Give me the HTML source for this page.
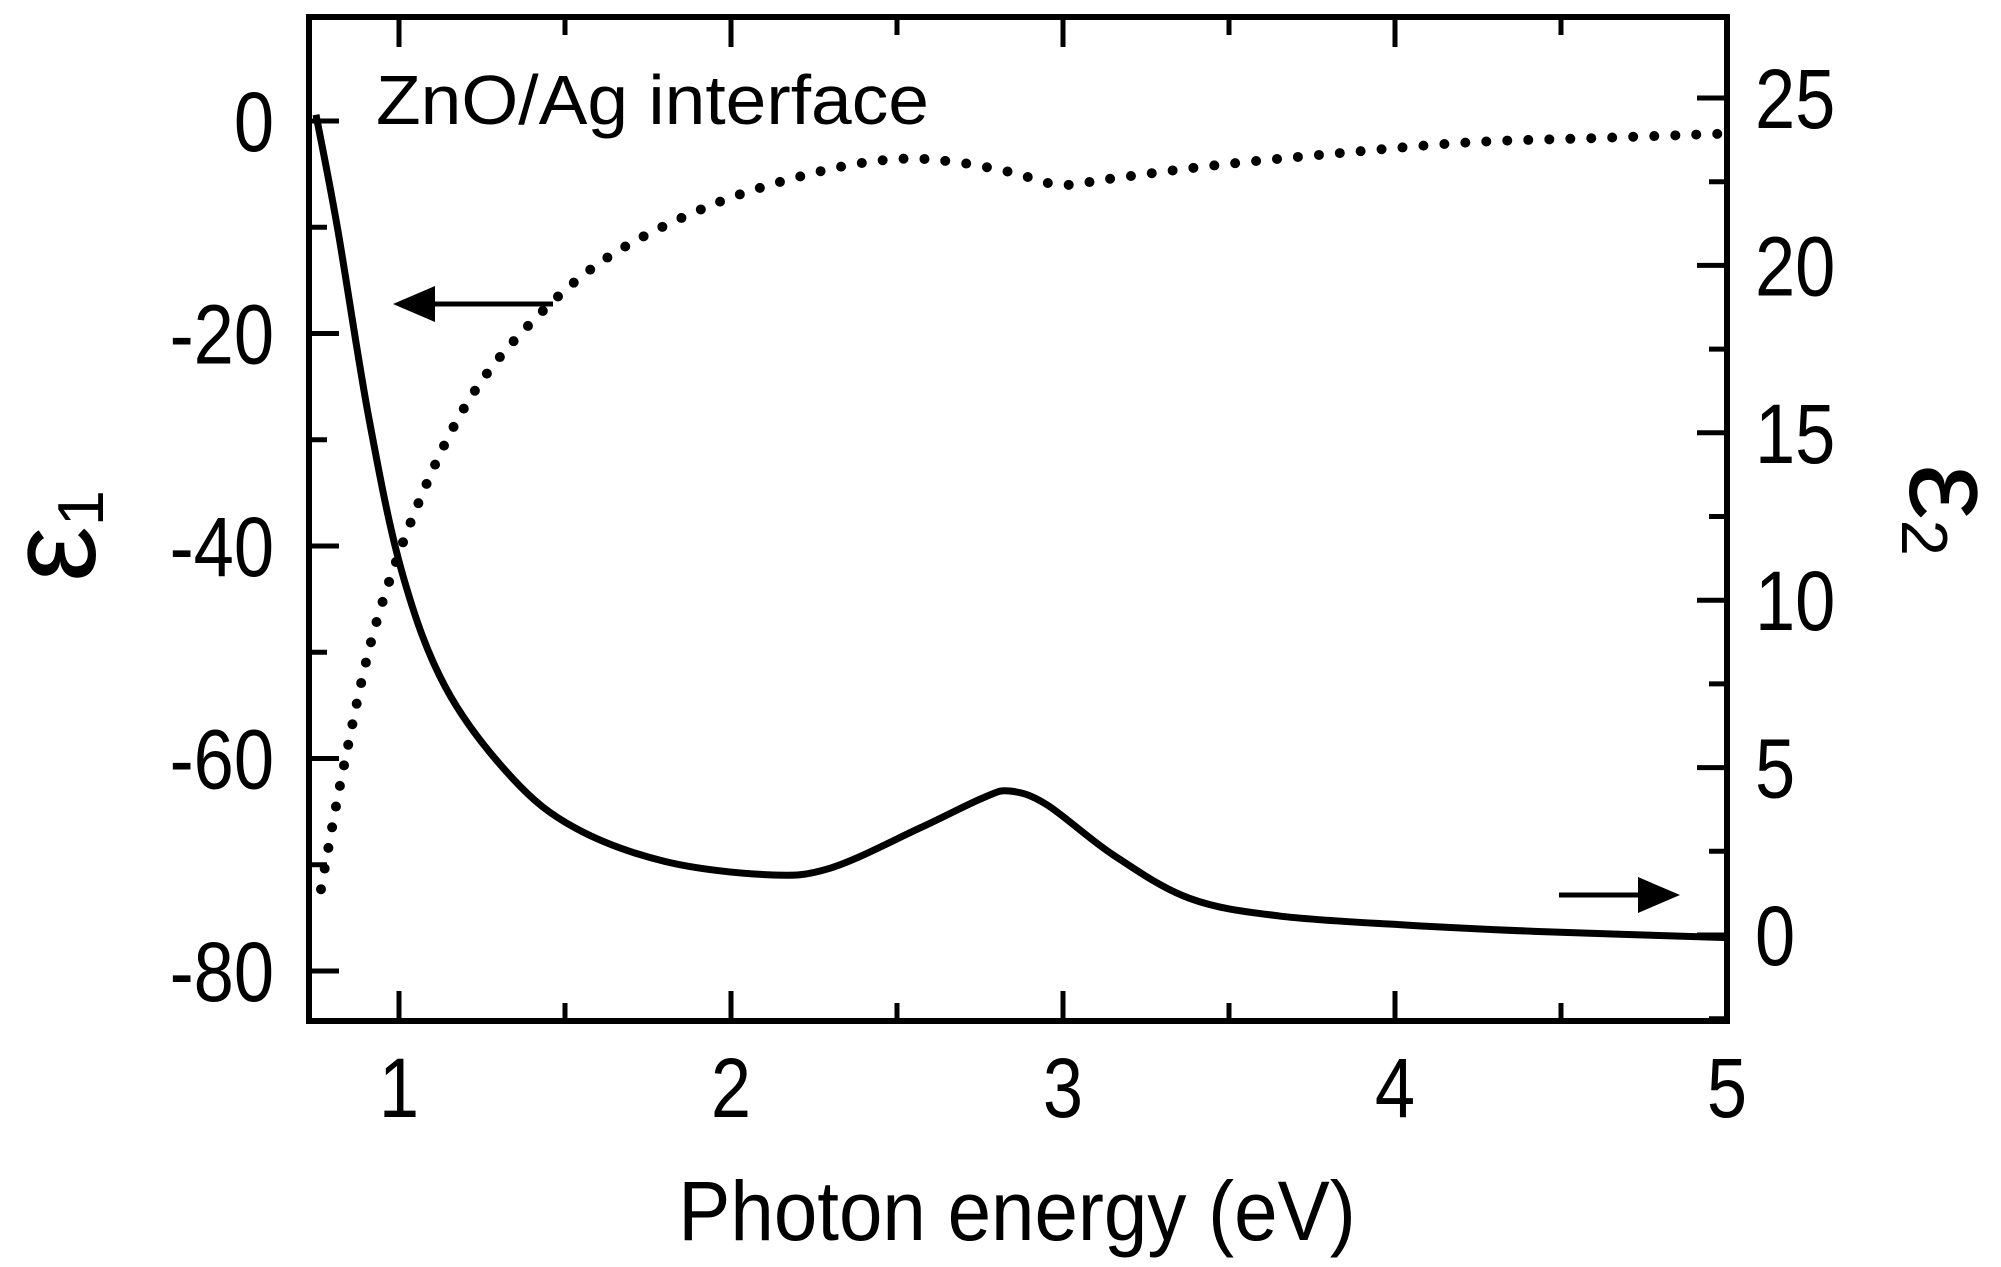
<!DOCTYPE html>
<html><head><meta charset="utf-8"><style>
html,body{margin:0;padding:0;background:#fff;}
svg{display:block;font-family:"Liberation Sans",Arial,sans-serif;}
</style></head><body>
<svg id="chart" width="2001" height="1267" viewBox="0 0 2001 1267" xmlns="http://www.w3.org/2000/svg"></svg>
<script>
const eps1Energy=[0.765,0.834,0.93,1.066,1.22,1.41,1.64,1.95,2.26,2.49,2.66,2.84,2.99,3.15,3.45,3.84,4.23,4.61,4.98];
const eps1Values=[-72.3,-60.7,-47.4,-35.4,-25.8,-18.6,-12.6,-7.8,-4.8,-3.6,-3.8,-4.8,-6.0,-5.4,-4.2,-3.0,-2.0,-1.6,-1.2];
const eps2Energy=[0.75,0.815,0.91,1.01,1.14,1.34,1.53,1.80,2.11,2.30,2.57,2.76,2.84,2.95,3.15,3.38,3.65,4.03,4.42,5.0];
const eps2Values=[24.5,21.1,15.4,10.8,7.4,4.7,3.2,2.2,1.8,2.0,3.2,4.1,4.3,3.9,2.4,1.1,0.57,0.3,0.11,-0.08];
const xTicks=[1,2,3,4,5];
const yLeftTicks=[0,-20,-40,-60,-80];
const yRightTicks=[0,5,10,15,20,25];

const svg=document.getElementById('chart');
const NS='http://www.w3.org/2000/svg';
const L=309,R=1727,T=17,B=1021;
const xs=e=>399+(e-1)*332;
const yl=v=>121-v*212.5/20;
const yr=v=>935-v*167.4/5;
function mk(tag,attrs,parent){const el=document.createElementNS(NS,tag);for(const k in attrs)el.setAttribute(k,attrs[k]);(parent||svg).appendChild(el);return el;}
function path(xsArr,ysArr){const p=xsArr.map((x,i)=>[x,ysArr[i]]);let d='M'+p[0][0]+','+p[0][1];
 for(let i=0;i<p.length-1;i++){const p0=p[i-1]||p[i],p1=p[i],p2=p[i+1],p3=p[i+2]||p2;
  d+=' C'+(p1[0]+(p2[0]-p0[0])/6)+','+(p1[1]+(p2[1]-p0[1])/6)+' '+(p2[0]-(p3[0]-p1[0])/6)+','+(p2[1]-(p3[1]-p1[1])/6)+' '+p2[0]+','+p2[1];}
 return d;}

let s1=mk('path',{d:path(eps1Energy.map(xs),eps1Values.map(yl)),fill:'none',stroke:'#000','stroke-width':10,'stroke-linecap':'round','stroke-dasharray':'0 21'});


let s2=mk('path',{d:path(eps2Energy.map(xs),eps2Values.map(yr)),fill:'none',stroke:'#000','stroke-width':7});



let fr=mk('rect',{x:L,y:T,width:R-L,height:B-T,fill:'none',stroke:'#000','stroke-width':6});


const tg=mk('g',{stroke:'#000','stroke-width':5});


for(let e=1;e<=5.001;e+=0.5){const x=xs(e),len=(Math.abs(e-Math.round(e))<0.01)?30:18;
 mk('line',{x1:x,y1:B,x2:x,y2:B-len},tg);mk('line',{x1:x,y1:T,x2:x,y2:T+len},tg);}
for(let v=0;v>=-80;v-=10){const y=yl(v),len=(v%20===0)?30:18;mk('line',{x1:L,y1:y,x2:L+len,y2:y},tg);}
for(let v=-2.5;v<=27.5;v+=2.5){const y=yr(v);if(y<T||y>B)continue;const len=(v%5===0)?30:18;mk('line',{x1:R,y1:y,x2:R-len,y2:y},tg);}

function txt(x,y,size,anchor,sx,content){const t=mk('text',{transform:'translate('+x+','+y+') scale('+sx+',1)','font-size':size,'text-anchor':anchor});t.textContent=content;return t;}
xTicks.forEach(e=>{const t=txt(xs(e),1117,84,'middle',0.86,e);
 
 });
yLeftTicks.forEach(v=>{const t=txt(274,yl(v)+30,84,'end',0.86,v);
 
 });
yRightTicks.forEach(v=>{const t=txt(1755,yr(v)+30,84,'start',0.86,v);
 
 });

let xt=txt(1017,1240,84,'middle',0.93,'Photon energy (eV)');


let an=mk('text',{x:376,y:124,'font-size':70,textLength:553,lengthAdjust:'spacingAndGlyphs'});an.textContent='ZnO/Ag interface';


let y1=mk('text',{transform:'translate(95,536) rotate(-90)','font-size':125,'text-anchor':'middle'});
y1.innerHTML='ε<tspan font-size="65" dy="8">1</tspan>';


let y2=mk('text',{transform:'translate(1910,510) rotate(90)','font-size':125,'text-anchor':'middle'});
y2.innerHTML='ε<tspan font-size="65" dy="8">2</tspan>';



let a1=mk('g',{});


mk('line',{x1:553,y1:304,x2:420,y2:304,stroke:'#000','stroke-width':5},a1);
mk('polygon',{points:'393,304 435,286 435,322',fill:'#000'},a1);
let a2=mk('g',{});


mk('line',{x1:1559,y1:895,x2:1650,y2:895,stroke:'#000','stroke-width':5},a2);
mk('polygon',{points:'1680,895 1638,877 1638,913',fill:'#000'},a2);
</script>
</body></html>
